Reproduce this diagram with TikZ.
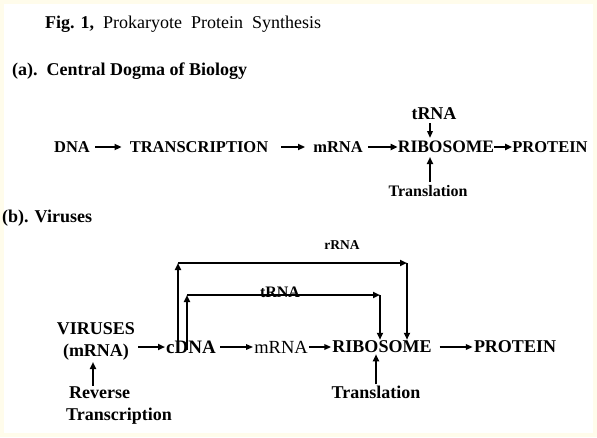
\documentclass[tikz,border=0pt]{standalone}
\usepackage{fontspec}
\setmainfont{Liberation Serif}
\usetikzlibrary{arrows.meta}
\definecolor{cream}{HTML}{FFFCEB}
\tikzset{
    lbl/.style={font=\bfseries\fontsize{16.5}{19}\selectfont, inner sep=3pt},
    vlbl/.style={font=\bfseries\fontsize{18}{22}\selectfont, inner sep=1pt, align=center},
    flow/.style={line width=2.2pt, -{Triangle[length=7pt,width=6pt]}},
    thinflow/.style={line width=1.4pt, -{Triangle[length=7pt,width=5.5pt]}}
}

\begin{document}
\begin{tikzpicture}[x=1pt,y=-1pt]
        \fill[cream] (0,0) rectangle (597,437);
        \fill[white] (4,4) rectangle (593,433);
        \useasboundingbox (0,0) rectangle (597,437);

        % headings
        \node[anchor=west, inner sep=0pt, font=\fontsize{18}{20}\selectfont] (title) at (45,24)
            {\textbf{Fig. 1,}\ \ Prokaryote\ \ Protein\ \ Synthesis};
        \node[anchor=west, inner sep=0pt, font=\bfseries\fontsize{18}{20}\selectfont] (parta) at (12,71)
            {(a).\ \ Central Dogma of Biology};
        \node[anchor=west, inner sep=0pt, font=\bfseries\fontsize{18}{20}\selectfont] (partb) at (2,218)
            {(b). Viruses};

        % (a) central dogma
        \node[lbl] (dna) at (72,147) {DNA};
        \node[lbl] (trans) at (199,147) {TRANSCRIPTION};
        \node[lbl] (mrna) at (338,147) {mRNA};
        \node[lbl, inner sep=0pt, font=\bfseries\fontsize{17.5}{19}\selectfont] (ribo) at (446,147) {RIBOSOME};
        \node[lbl, inner sep=0pt] (prot) at (550,147) {PROTEIN};
        \node[lbl, font=\bfseries\fontsize{18}{20}\selectfont] (trna) at (434,114) {tRNA};
        \node[lbl, font=\bfseries\fontsize{16}{18}\selectfont] (transl) at (428,191) {Translation};

        \draw[flow, shorten <=2pt, shorten >=5pt] (dna) -- (trans);
        \draw[flow, shorten <=10pt, shorten >=5pt] (trans) -- (mrna);
        \draw[flow, shorten <=2pt] (mrna.east) -- (ribo.west);
        \draw[flow] (ribo.east) -- (prot.west);
        \draw[thinflow, line width=1.8pt] (trna.south -| 430,0) -- (430,138);
        \draw[flow] (transl.north -| 430,0) -- (430,157);

        % (b) viruses
        \node[vlbl] (virus) at (96,341) {VIRUSES\\(mRNA)};
        \node[vlbl, font=\bfseries\fontsize{19}{22}\selectfont] (cdna) at (191,347) {cDNA};
        \node[vlbl, font=\fontsize{18.5}{22}\selectfont] (mrnab) at (281,347) {mRNA};
        \node[vlbl] (ribob) at (382,347) {RIBOSOME};
        \node[vlbl] (protb) at (515,347) {PROTEIN};
        \node[vlbl] (translb) at (376,392) {Translation};
        \node[vlbl, align=left] (rev) at (119,406) {\hspace*{3pt}Reverse\\Transcription};
        \node[font=\bfseries\fontsize{13.5}{16}\selectfont, inner sep=0pt] (rrna) at (342,245) {rRNA};
        \node[anchor=base, font=\bfseries\fontsize{16}{18}\selectfont, inner sep=0pt] (trnab) at (280,297) {tRNA};

        \coordinate (o1) at (178,350);
        \coordinate (o2) at (178,263);
        \coordinate (o3) at (407,263);
        \coordinate (i1) at (187,350);
        \coordinate (i2) at (187,295);
        \coordinate (i3) at (380,295);

        \draw[flow] ([xshift=2pt]virus.east |- cdna) -- (cdna);
        \draw[thinflow, shorten <=3pt] (cdna) -- (mrnab);
        \draw[thinflow, line width=1.8pt] (mrnab) -- (ribob);
        \draw[thinflow, line width=1.8pt] ([xshift=7pt]ribob.east) -- (protb.west);
        \draw[flow] (translb.north) -- (translb.north |- ribob.south);
        \draw[flow] (rev.north -| 93,0) -- (93,362);

        \draw[flow] (o1) -- (o2);
        \draw[flow] (o2) -- (o3);
        \draw[flow] (o3) -- (o3 |- ribob.north);
        \draw[flow] (i1) -- (i2);
        \draw[flow] (i2) -- (i3);
        \draw[flow] (i3) -- (i3 |- ribob.north);
\end{tikzpicture}
\end{document}
